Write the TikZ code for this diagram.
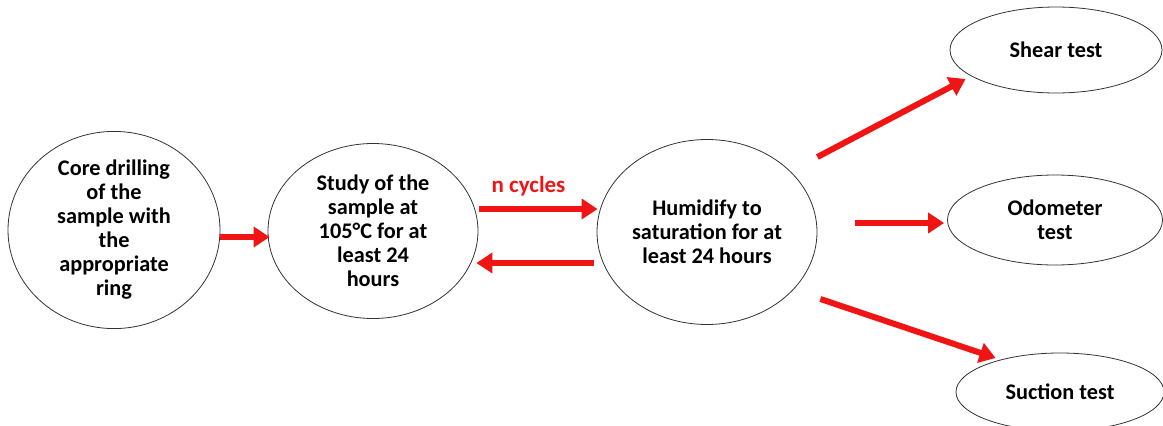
\documentclass[tikz,border=0pt]{standalone}
\usepackage{fontspec}
\setmainfont{Carlito}
\usetikzlibrary{shapes.geometric, arrows.meta}
\definecolor{arrowred}{RGB}{240,20,20}

\begin{document}
\begin{tikzpicture}[x=1pt, y=-1pt]
    % Setup the style for the steps
        \tikzset{step node/.style={ellipse,
                                   draw=black!80,
                                   line width=0.8pt,
                                   inner sep=0pt,
                                   align=center,
                                   font=\fontsize{22.3}{24}\selectfont\bfseries},
                 flow arrow/.style={draw=arrowred,
                                    line width=6pt,
                                    -{Triangle[length=16pt,width=20pt]}}}
        \clip (0,0) rectangle (1163,426);
        \useasboundingbox (0,0) rectangle (1163,426);
        % Draw the steps
        \node[step node, minimum width=212pt, minimum height=175pt] at (114, 230)  (core) {Core drilling\\of the\\sample with\\the\\appropriate\\ring};
        \node[step node, minimum width=210pt, minimum height=175pt] at (373, 231)  (study) {Study of the\\sample at\\105°C for at\\least 24\\hours};
        \node[step node, minimum width=220pt, minimum height=185pt] at (707, 232)  (humid) {Humidify to\\saturation for at\\least 24 hours};
        \node[step node, minimum width=212pt, minimum height=86pt] at (1056, 50)   (shear) {Shear test};
        \node[step node, minimum width=215pt, minimum height=90pt] at (1055, 220)  (odo) {Odometer\\test};
        \node[step node, minimum width=208pt, minimum height=78pt] at (1060, 392)  (suction) {Suction test};
        % Connect the steps with arrows
        \draw[flow arrow] (core.east |- 0,237) -- ([xshift=2pt]study.west |- 0,237);
        \draw[flow arrow] ([xshift=1pt]study.east |- 0,209) -- node[above=7pt, xshift=-10pt, text=arrowred,
              font=\fontsize{23}{24}\selectfont\bfseries]{n cycles} ([xshift=1pt]humid.west |- 0,209);
        \draw[flow arrow] ([xshift=-3pt]humid.west |- 0,263) -- ([xshift=-2pt]study.east |- 0,263);
        \draw[flow arrow] ([shift={(0,-75)}]humid.east) -- ([shift={(16,29)}]shear.west);
        \draw[flow arrow] ([xshift=38pt]humid.east |- 0,223) -- ([xshift=-3pt]odo.west |- 0,223);
        \draw[flow arrow] ([shift={(3,67)}]humid.east) -- ([shift={(40,-34)}]suction.west);
\end{tikzpicture}
\end{document}
